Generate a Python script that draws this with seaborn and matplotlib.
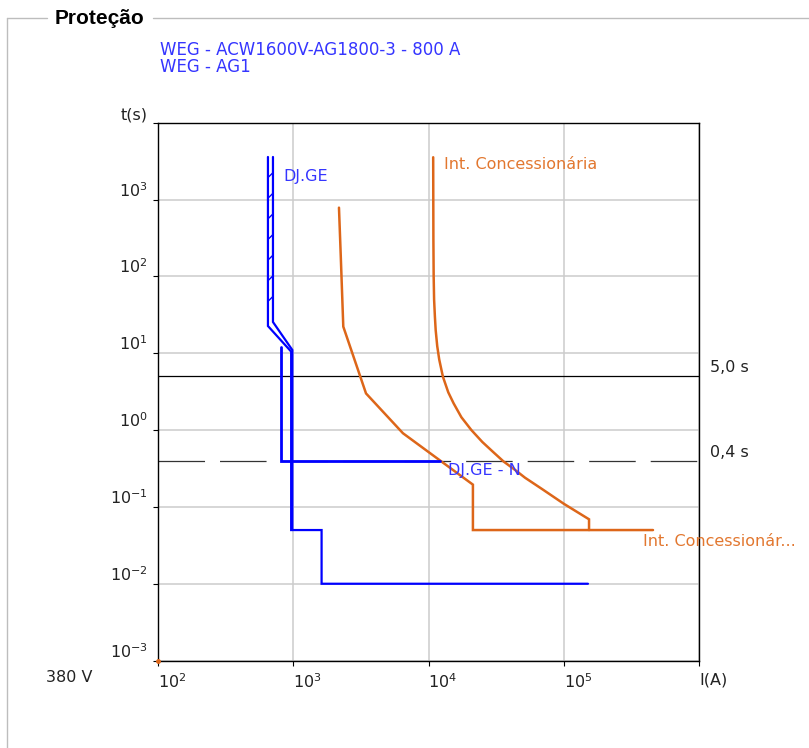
import numpy as np
import pandas as pd
import matplotlib
matplotlib.use("Agg")
import matplotlib.pyplot as plt
from matplotlib.lines import Line2D
import seaborn as sns

# ---- data: time-current curves (current in A, time in s) ----
# DJ.GE - thermal band (lower and upper edge) followed by short-time / instantaneous steps
djge_min_current = [650, 650, 965, 965, 1620, 1620, 151000]
djge_min_time = [3580, 22.6, 10.5, 0.05, 0.05, 0.01, 0.01]
djge_max_current = [708, 708, 985, 985]
djge_max_time = [3580, 25.5, 11.0, 0.05]

# DJ.GE - N (neutral element)
djgen_current = [807, 807, 12160]
djgen_time = [12.1, 0.4, 0.4]

# Utility breaker - inverse-time curve ending on its instantaneous step
util_inv_current = [10830, 10850, 10870, 10920, 11000, 11150, 11300, 11600, 12000,
                    12780, 14000, 15330, 17500, 20750, 25000, 30000, 35900, 44000,
                    51700, 70100, 100000, 153800, 153800]
util_inv_time = [3550, 1000, 300, 100, 50, 30, 20, 12.4, 8.3,
                 4.95, 3.1, 2.23, 1.47, 1.0, 0.7, 0.52, 0.39, 0.3,
                 0.24, 0.168, 0.11, 0.069, 0.05]

# Utility breaker - second curve with definite-time step
util_def_current = [2178, 2244, 2344, 3451, 6470, 21300, 21300, 457000]
util_def_time = [784, 190, 22.2, 3.0, 0.91, 0.195, 0.05, 0.05]

# reference times
time_marks = [5.0, 0.4]
time_mark_labels = ["5,0 s", "0,4 s"]

# axis ticks
x_ticks = [1e2, 1e3, 1e4, 1e5, 1e6]
x_tick_labels = ["$10^{2}$", "$10^{3}$", "$10^{4}$", "$10^{5}$", "I(A)"]
y_ticks = [1e-3, 1e-2, 1e-1, 1e0, 1e1, 1e2, 1e3, 1e4]
y_tick_labels = ["$10^{-3}$", "$10^{-2}$", "$10^{-1}$", "$10^{0}$",
                 "$10^{1}$", "$10^{2}$", "$10^{3}$", "t(s)"]

legend_lines = ["WEG - ACW1600V-AG1800-3 - 800 A", "WEG - AG1"]

BLUE = "#0000ff"
BLUE_TXT = "#3535ff"
ORANGE = "#dd6619"
ORANGE_TXT = "#e2772f"
TXT = 11.5

sns.set_theme(style="white")
plt.rcParams["font.family"] = ["DejaVu Sans"]
plt.rcParams["lines.scale_dashes"] = False
plt.rcParams["lines.solid_joinstyle"] = "miter"

fig = plt.figure(figsize=(8.09, 7.48), dpi=100)
ax = fig.add_axes([158 / 809, 1 - 660.6 / 748, 541 / 809, 537.9 / 748])
ax.set_xscale("log")
ax.set_yscale("log")
ax.set_xlim(1e2, 1e6)
ax.set_ylim(1e-3, 1e4)


def curve(current, time, color, lw):
    df = pd.DataFrame({"I": current, "t": time})
    sns.lineplot(data=df, x="I", y="t", sort=False, estimator=None,
                 color=color, lw=lw, ax=ax)


# reference time lines
ax.axhline(time_marks[0], color="black", lw=0.9, zorder=2)
ax.axhline(time_marks[1], color="#333333", lw=0.9, dashes=(33.5, 10.8), zorder=2)

# utility curves
curve(util_def_current, util_def_time, ORANGE, 1.8)
curve(util_inv_current, util_inv_time, ORANGE, 1.8)

# breaker curves
curve(djgen_current, djgen_time, BLUE, 2.0)
curve(djge_min_current, djge_min_time, BLUE, 1.6)
curve(djge_max_current, djge_max_time, BLUE, 1.6)

# hatch marks inside the thermal band
for t in np.geomspace(djge_max_time[0], djge_max_time[1], 9)[1:-1]:
    ax.plot([djge_min_current[0], djge_max_current[0]], [t, t * 1.16],
            color=BLUE, lw=1.0, solid_capstyle="butt")

# small marker at the origin of the chart
ax.plot([1e2], [1e-3], marker="o", ms=2.5, color=ORANGE, clip_on=False, zorder=5)

# curve labels
ax.text(840, 1970, "DJ.GE", color=BLUE_TXT, fontsize=TXT, va="center", ha="left")
ax.text(13000, 2820, "Int. Concessionária", color=ORANGE_TXT, fontsize=TXT,
        va="center", ha="left")
ax.text(13900, 0.294, "DJ.GE - N", color=BLUE_TXT, fontsize=TXT, va="center", ha="left")
ax.text(385000, 0.035, "Int. Concessionár...", color=ORANGE_TXT, fontsize=TXT,
        va="center", ha="left", clip_on=False)

# labels for reference times, right of the frame
ytrans = ax.get_yaxis_transform()
for t, lab in zip(time_marks, time_mark_labels):
    ax.text(1.0203, t * 1.29, lab, transform=ytrans, fontsize=TXT,
            color="#222222", va="center", ha="left")

# grid, frame, ticks
ax.grid(True, which="major", color="#cccccc", lw=1.1)
ax.minorticks_off()
for s in ax.spines.values():
    s.set_color("black")
    s.set_linewidth(1.0)
ax.set_xticks(x_ticks)
ax.set_xticklabels(x_tick_labels)
ax.set_yticks(y_ticks)
ax.set_yticklabels(y_tick_labels)
ax.tick_params(axis="both", which="major", direction="out", length=3.5, width=0.8,
               color="black", labelsize=TXT, labelcolor="#222222",
               bottom=True, left=True)
ax.tick_params(axis="x", pad=5)
ax.tick_params(axis="y", pad=4)
for lab in ax.get_xticklabels():
    lab.set_horizontalalignment("left")
for lab in ax.get_yticklabels():
    lab.set_verticalalignment("bottom")
ax.set_xlabel("")
ax.set_ylabel("")

# voltage level
fig.text(46 / 809, 1 - 678 / 748, "380 V", fontsize=TXT, color="#222222",
         ha="left", va="center")

# device description, two tightly spaced lines
fig.text(160 / 809, 1 - 58.5 / 748, "\n".join(legend_lines), fontsize=12,
         color=BLUE_TXT, ha="left", va="center", linespacing=0.9)

# group box with title
box_y = 1 - 18 / 748
box_color = "#bdbdbd"
fig.add_artist(Line2D([7 / 809, 47 / 809], [box_y, box_y], transform=fig.transFigure,
                      color=box_color, lw=1.0))
fig.add_artist(Line2D([153 / 809, 1.0], [box_y, box_y], transform=fig.transFigure,
                      color=box_color, lw=1.0))
fig.add_artist(Line2D([7 / 809, 7 / 809], [box_y, 0.0], transform=fig.transFigure,
                      color=box_color, lw=1.0))
fig.text(55 / 809, 1 - 18 / 748, "Proteção", fontsize=15, fontweight="bold",
         family=["Liberation Sans", "DejaVu Sans"], color="black",
         ha="left", va="center")

fig.savefig("out.png", dpi=100)
